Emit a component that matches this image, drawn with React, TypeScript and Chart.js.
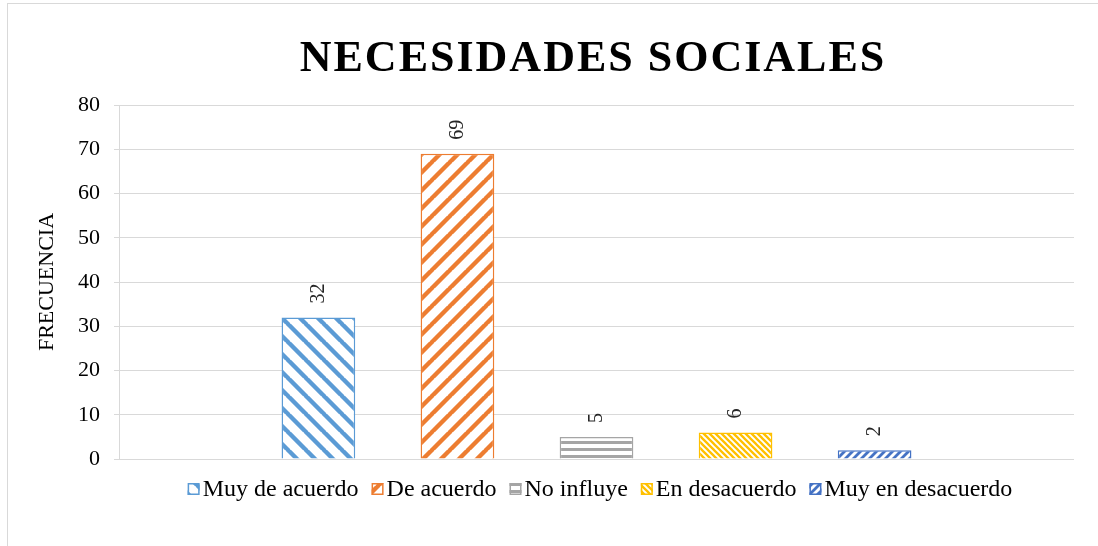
import React, { useEffect, useRef } from "react";
import { Chart, registerables } from "chart.js";

Chart.register(...registerables);

const categories = [""];
const seriesNames = ["Muy de acuerdo", "De acuerdo", "No influye", "En desacuerdo", "Muy en desacuerdo"];
const seriesValues = [32, 69, 5, 6, 2];
const seriesColors = ["#5B9BD5", "#ED7D31", "#A5A5A5", "#FFC000", "#4472C4"];
const seriesPatterns = ["down-wide", "up-wide", "horizontal", "down-narrow", "up-narrow"];
const yTicks = { min: 0, max: 80, step: 10 };
const titleText = "NECESIDADES SOCIALES";
const yAxisTitle = "FRECUENCIA";

const SERIF = "'Liberation Serif', 'Times New Roman', serif";

function makePattern(color: string, kind: string): CanvasPattern | string {
  const c = document.createElement("canvas");
  let s = 18;
  let lw = 4.4;
  if (kind === "down-narrow") { s = 6; lw = 2.3; }
  if (kind === "up-narrow") { s = 8; lw = 2.8; }
  if (kind === "horizontal") { s = 7; }
  c.width = s;
  c.height = s;
  const g = c.getContext("2d")!;
  g.fillStyle = "#ffffff";
  g.fillRect(0, 0, s, s);
  g.strokeStyle = color;
  g.fillStyle = color;
  g.lineWidth = lw;
  if (kind === "horizontal") {
    g.fillRect(0, 0, s, 3);
  } else {
    const down = kind.startsWith("down");
    g.beginPath();
    for (let k = -1; k <= 1; k++) {
      if (down) {
        g.moveTo(k * s - 1, -1);
        g.lineTo(k * s + s + 1, s + 1);
      } else {
        g.moveTo(k * s - 1, s + 1);
        g.lineTo(k * s + s + 1, -1);
      }
    }
    g.stroke();
  }
  const p = g.createPattern(c, "repeat");
  return p || color;
}

export default function App() {
  const ref = useRef<HTMLCanvasElement | null>(null);

  useEffect(() => {
    if (!ref.current) return;
    const patterns = seriesColors.map((col, i) => makePattern(col, seriesPatterns[i]));

    const decor = {
      id: "decor",
      beforeDraw(chart: any) {
        const ctx = chart.ctx;
        ctx.save();
        ctx.fillStyle = "#ffffff";
        ctx.fillRect(0, 0, chart.width, chart.height);
        ctx.strokeStyle = "#d9d9d9";
        ctx.lineWidth = 1;
        ctx.strokeRect(7.5, 3.5, 1300, 800);
        ctx.restore();
      },
      afterDatasetsDraw(chart: any) {
        const ctx = chart.ctx;
        ctx.save();
        ctx.font = `20px ${SERIF}`;
        ctx.fillStyle = "#262626";
        chart.data.datasets.forEach((ds: any, i: number) => {
          const meta = chart.getDatasetMeta(i);
          meta.data.forEach((el: any, j: number) => {
            ctx.save();
            ctx.translate(el.x, el.y - 14);
            ctx.rotate(-Math.PI / 2);
            ctx.textAlign = "left";
            ctx.textBaseline = "middle";
            ctx.fillText(String(ds.data[j]), 0, 0);
            ctx.restore();
          });
        });
        ctx.restore();
      },
      afterDraw(chart: any) {
        const ctx = chart.ctx;
        const area = chart.chartArea;
        ctx.save();
        // title
        ctx.font = `bold 44px ${SERIF}`;
        ctx.fillStyle = "#000000";
        (ctx as any).letterSpacing = "2px";
        ctx.textAlign = "center";
        ctx.textBaseline = "alphabetic";
        ctx.fillText(titleText, 593, 71);
        (ctx as any).letterSpacing = "0px";
        // y axis title
        ctx.save();
        ctx.font = `22px ${SERIF}`;
        ctx.translate(53, (area.top + area.bottom) / 2);
        ctx.rotate(-Math.PI / 2);
        ctx.textAlign = "center";
        ctx.textBaseline = "alphabetic";
        ctx.fillText(yAxisTitle, 0, 0);
        ctx.restore();
        // legend
        ctx.font = `24px ${SERIF}`;
        const box = 12;
        const gap = 3;
        const itemGap = 13;
        const widths = seriesNames.map((n) => ctx.measureText(n).width);
        const total = widths.reduce((a, w) => a + box + gap + w, 0) + itemGap * (seriesNames.length - 1);
        let x = 600 - total / 2;
        const cy = 489;
        seriesNames.forEach((n, i) => {
          ctx.fillStyle = patterns[i] as any;
          ctx.fillRect(x, cy - box / 2, box, box);
          ctx.strokeStyle = seriesColors[i];
          ctx.lineWidth = 1.5;
          ctx.strokeRect(x + 0.75, cy - box / 2 + 0.75, box - 1.5, box - 1.5);
          ctx.fillStyle = "#000000";
          ctx.textAlign = "left";
          ctx.textBaseline = "middle";
          ctx.fillText(n, x + box + gap, cy + 1);
          x += box + gap + widths[i] + itemGap;
        });
        ctx.restore();
      },
    };

    const chart = new Chart(ref.current, {
      type: "bar",
      data: {
        labels: categories,
        datasets: seriesNames.map((name, i) => ({
          label: name,
          data: [seriesValues[i]],
          backgroundColor: patterns[i] as any,
          borderColor: seriesColors[i],
          borderWidth: 1.5,
          categoryPercentage: 0.728,
          barPercentage: 0.53,
        })),
      },
      options: {
        responsive: false,
        animation: false,
        layout: { padding: { top: 105, bottom: 87, left: 0, right: 24 } },
        plugins: {
          legend: { display: false },
          title: { display: false },
          tooltip: { enabled: false },
        },
        scales: {
          x: { display: false },
          y: {
            min: yTicks.min,
            max: yTicks.max,
            ticks: {
              stepSize: yTicks.step,
              color: "#000000",
              font: { family: SERIF, size: 22 },
              padding: 14,
            },
            grid: { color: "#d9d9d9", lineWidth: 1, tickLength: 5, drawTicks: true },
            border: { display: true, color: "#d9d9d9" },
            afterFit: (s: any) => { s.width = 119; },
          },
        },
      },
      plugins: [decor],
    });
    return () => chart.destroy();
  }, []);

  return (
    <canvas
      ref={ref}
      width={1098}
      height={546}
      style={{ position: "fixed", left: 0, top: 0, display: "block" }}
    />
  );
}
